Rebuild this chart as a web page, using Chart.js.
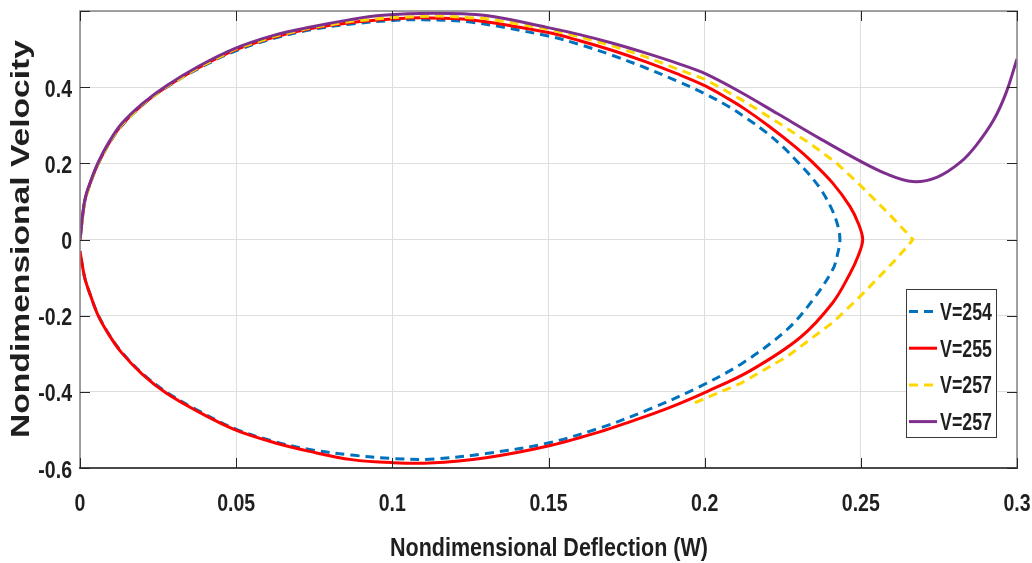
<!DOCTYPE html>
<html><head><meta charset="utf-8">
<script src="https://cdn.jsdelivr.net/npm/chart.js@4/dist/chart.umd.min.js"></script>
<style>html,body{margin:0;padding:0;background:#fff;}canvas{display:block}</style>
</head><body>
<canvas id="c" width="1032" height="563"></canvas>
<script>
// ---- data ----
const seriesLabels = ['V=254', 'V=255', 'V=257', 'V=257'];
const xTickValues = [0, 0.05, 0.1, 0.15, 0.2, 0.25, 0.3];
const xTickLabels = ['0', '0.05', '0.1', '0.15', '0.2', '0.25', '0.3'];
const yTickValues = [-0.6, -0.4, -0.2, 0, 0.2, 0.4];
const yTickLabels = ['-0.6', '-0.4', '-0.2', '0', '0.2', '0.4'];
const xTitle = 'Nondimensional Deflection (W)';
const yTitle = 'Nondimensional Velocity';

const v254X = [0,0.0015,0.0035,0.0059,0.0095,0.0133,0.02,0.0277,0.038,0.0497,0.062,0.0739,0.087,0.1,0.11,0.125,0.1495,0.16,0.1703,0.181,0.1915,0.2,0.2075,0.2128,0.2199,0.2255,0.2288,0.233,0.2369,0.2404,0.2425,0.2433,
  0.2425,0.241,0.2347,0.2263,0.2122,0.1975,0.1825,0.1664,0.1495,0.13,0.112,0.1,0.087,0.0739,0.062,0.0497,0.038,0.0277,0.02,0.0133,0.0095,0.0059,0.0035,0.0015,0];
const v254Y = [0,0.1,0.152,0.2,0.254,0.298,0.353,0.4,0.449,0.495,0.528,0.551,0.566,0.575,0.577,0.571,0.535,0.512,0.484,0.451,0.415,0.383,0.35,0.322,0.28,0.24,0.212,0.175,0.135,0.085,0.04,0,
  -0.04,-0.079,-0.158,-0.237,-0.324,-0.39,-0.445,-0.495,-0.535,-0.562,-0.577,-0.575,-0.566,-0.552,-0.53,-0.497,-0.45,-0.401,-0.352,-0.295,-0.252,-0.2,-0.15,-0.1,-0.03];

const v255X = [0,0.0015,0.0035,0.0059,0.0095,0.0133,0.02,0.0277,0.038,0.0497,0.062,0.0739,0.087,0.1,0.11,0.125,0.1495,0.16,0.1703,0.181,0.1915,0.2,0.2075,0.2128,0.2205,0.2295,0.2345,0.241,0.2465,0.2492,0.2506,
  0.2492,0.2465,0.241,0.2305,0.2145,0.2011,0.1885,0.1756,0.1664,0.1495,0.13,0.1118,0.1,0.087,0.0739,0.062,0.0497,0.038,0.0277,0.02,0.0133,0.0095,0.0059,0.0035,0.0015,0];
const v255Y = [0,0.1,0.153,0.201,0.256,0.3,0.354,0.401,0.451,0.498,0.531,0.554,0.57,0.579,0.582,0.577,0.544,0.522,0.497,0.467,0.434,0.404,0.37,0.343,0.298,0.24,0.203,0.148,0.087,0.042,0,
  -0.042,-0.09,-0.166,-0.258,-0.345,-0.398,-0.442,-0.48,-0.505,-0.543,-0.573,-0.587,-0.586,-0.578,-0.557,-0.533,-0.5,-0.453,-0.404,-0.354,-0.297,-0.253,-0.201,-0.15,-0.1,-0.031];

const v257aX = [0,0.0015,0.0035,0.0059,0.0095,0.0133,0.02,0.0277,0.038,0.0497,0.062,0.0739,0.087,0.1,0.115,0.13,0.1495,0.16,0.1703,0.181,0.1915,0.2,0.2065,0.2128,0.2235,0.2341,0.2423,0.2495,0.2545,0.2596,0.2667,
  0.2615,0.256,0.2485,0.241,0.2263,0.2115,0.1965];
const v257aY = [0,0.1,0.154,0.202,0.257,0.301,0.355,0.402,0.452,0.5,0.533,0.556,0.573,0.583,0.587,0.58,0.553,0.532,0.509,0.48,0.447,0.421,0.392,0.362,0.307,0.25,0.2,0.145,0.104,0.062,0,
  -0.05,-0.097,-0.16,-0.218,-0.308,-0.378,-0.43];

const v257bX = [0,0.0015,0.0035,0.0059,0.0095,0.0133,0.02,0.0277,0.038,0.0497,0.062,0.0739,0.087,0.0958,0.113,0.13,0.1495,0.16,0.1703,0.181,0.1915,0.2,0.2117,0.2234,0.2369,0.2495,0.258,0.2666,0.2745,0.2819,0.287,0.2926,0.2965,0.3];
const v257bY = [0,0.102,0.155,0.204,0.259,0.304,0.357,0.404,0.455,0.502,0.536,0.558,0.578,0.588,0.594,0.588,0.557,0.538,0.516,0.49,0.462,0.436,0.386,0.33,0.265,0.207,0.173,0.152,0.164,0.203,0.248,0.315,0.385,0.474];

// ---- helpers ----
const FONT_FAMILY = '"Liberation Sans", Arial, Helvetica, sans-serif';
const TEXT_COLOR = '#1f1f1f';
function toPoints(xs, ys) { return xs.map((x, i) => ({ x: x, y: ys[i] })); }
function measure(ctx, font, text) { ctx.save(); ctx.font = font; const w = ctx.measureText(text).width; ctx.restore(); return w; }
function drawText(ctx, text, x, y, font, sx, align, baseline, rotate) {
  ctx.save();
  ctx.translate(x, y);
  if (rotate) ctx.rotate(-Math.PI / 2);
  ctx.scale(sx, 1);
  ctx.font = font; ctx.fillStyle = TEXT_COLOR;
  ctx.textAlign = align; ctx.textBaseline = baseline;
  ctx.fillText(text, 0, 0);
  ctx.restore();
}

const decor = {
  id: 'decor',
  afterDraw(chart) {
    const ctx = chart.ctx, a = chart.chartArea, xs = chart.scales.x, ys = chart.scales.y;
    ctx.save();
    // axes box
    ctx.lineWidth = 1.5; ctx.strokeStyle = '#858585';
    ctx.beginPath();
    ctx.moveTo(a.left, a.bottom); ctx.lineTo(a.left, a.top); ctx.lineTo(a.right, a.top); ctx.lineTo(a.right, a.bottom);
    ctx.stroke();
    ctx.lineWidth = 2; ctx.strokeStyle = '#4a4a4a';
    ctx.beginPath(); ctx.moveTo(a.left - 1, a.bottom); ctx.lineTo(a.right + 1, a.bottom); ctx.stroke();
    // inward ticks
    ctx.lineWidth = 1; ctx.strokeStyle = '#262626';
    const TL = 10;
    ctx.beginPath();
    xTickValues.forEach(v => {
      const px = Math.round(xs.getPixelForValue(v)) + 0.5;
      ctx.moveTo(px, a.bottom); ctx.lineTo(px, a.bottom - TL);
      ctx.moveTo(px, a.top); ctx.lineTo(px, a.top + TL);
    });
    yTickValues.concat([0.6]).forEach(v => {
      const py = Math.round(ys.getPixelForValue(v)) + 0.5;
      ctx.moveTo(a.left, py); ctx.lineTo(a.left + TL, py);
      ctx.moveTo(a.right, py); ctx.lineTo(a.right - TL, py);
    });
    ctx.stroke();
    // tick labels
    const tickFont = 'bold 24px ' + FONT_FAMILY;
    const tsx = 38 / measure(ctx, tickFont, '0.05');
    xTickValues.forEach((v, i) => {
      drawText(ctx, xTickLabels[i], xs.getPixelForValue(v), 510.5, tickFont, tsx, 'center', 'alphabetic');
    });
    yTickValues.forEach((v, i) => {
      drawText(ctx, yTickLabels[i], 72, ys.getPixelForValue(v) + 9.5, tickFont, tsx, 'right', 'alphabetic');
    });
    // axis titles
    const xtFont = 'bold 26px ' + FONT_FAMILY;
    drawText(ctx, xTitle, 549, 556, xtFont, 318 / measure(ctx, xtFont, xTitle), 'center', 'alphabetic');
    const ytFont = 'bold 25px ' + FONT_FAMILY;
    drawText(ctx, yTitle, 28.5, 239, ytFont, 398 / measure(ctx, ytFont, yTitle), 'center', 'alphabetic', true);
    // legend
    const lx = 906.5, ly = 289.5, lw = 90, lh = 148;
    ctx.fillStyle = '#ffffff'; ctx.fillRect(lx, ly, lw, lh);
    ctx.lineWidth = 1; ctx.strokeStyle = '#3a3a3a'; ctx.strokeRect(lx, ly, lw, lh);
    const legFont = 'bold 24px ' + FONT_FAMILY;
    const lsx = 52 / measure(ctx, legFont, 'V=254');
    chart.data.datasets.forEach((ds, i) => {
      const cy = 311.5 + i * 36.7;
      ctx.save();
      ctx.lineWidth = 3; ctx.strokeStyle = ds.borderColor; ctx.lineCap = 'butt';
      ctx.setLineDash(ds.borderDash || []);
      ctx.beginPath(); ctx.moveTo(909, cy); ctx.lineTo(937, cy); ctx.stroke();
      ctx.restore();
      drawText(ctx, ds.label, 940, cy + 8.5, legFont, lsx, 'left', 'alphabetic');
    });
    ctx.restore();
  }
};

const DASH = [9, 6];
new Chart(document.getElementById('c').getContext('2d'), {
  type: 'scatter',
  data: {
    datasets: [
      { label: seriesLabels[0], data: toPoints(v254X, v254Y), borderColor: '#0072BD', borderDash: DASH, tension: 0.35, order: 4 },
      { label: seriesLabels[1], data: toPoints(v255X, v255Y), borderColor: '#FF0000', tension: 0.35, order: 3 },
      { label: seriesLabels[2], data: toPoints(v257aX, v257aY), borderColor: '#FFD700', borderDash: DASH, tension: 0, order: 2 },
      { label: seriesLabels[3], data: toPoints(v257bX, v257bY), borderColor: '#7E2F8E', tension: 0.35, order: 1 }
    ].map(d => Object.assign({ showLine: true, borderWidth: 3, pointRadius: 0, pointHoverRadius: 0, fill: false,
      borderCapStyle: 'butt', borderJoinStyle: 'round', backgroundColor: d.borderColor }, d))
  },
  options: {
    responsive: false, animation: false, devicePixelRatio: 1,
    layout: { padding: { left: 80, right: 15, top: 11, bottom: 95 } },
    scales: {
      x: { type: 'linear', min: 0, max: 0.3,
        ticks: { display: false, stepSize: 0.05 },
        grid: { color: '#dedede', lineWidth: 1, drawTicks: false, tickLength: 0 },
        border: { display: false }, title: { display: false } },
      y: { type: 'linear', min: -0.6, max: 0.6,
        ticks: { display: false, stepSize: 0.2 },
        grid: { color: '#dedede', lineWidth: 1, drawTicks: false, tickLength: 0 },
        border: { display: false }, title: { display: false } }
    },
    plugins: { legend: { display: false }, tooltip: { enabled: false } }
  },
  plugins: [decor]
});
</script>
</body></html>
